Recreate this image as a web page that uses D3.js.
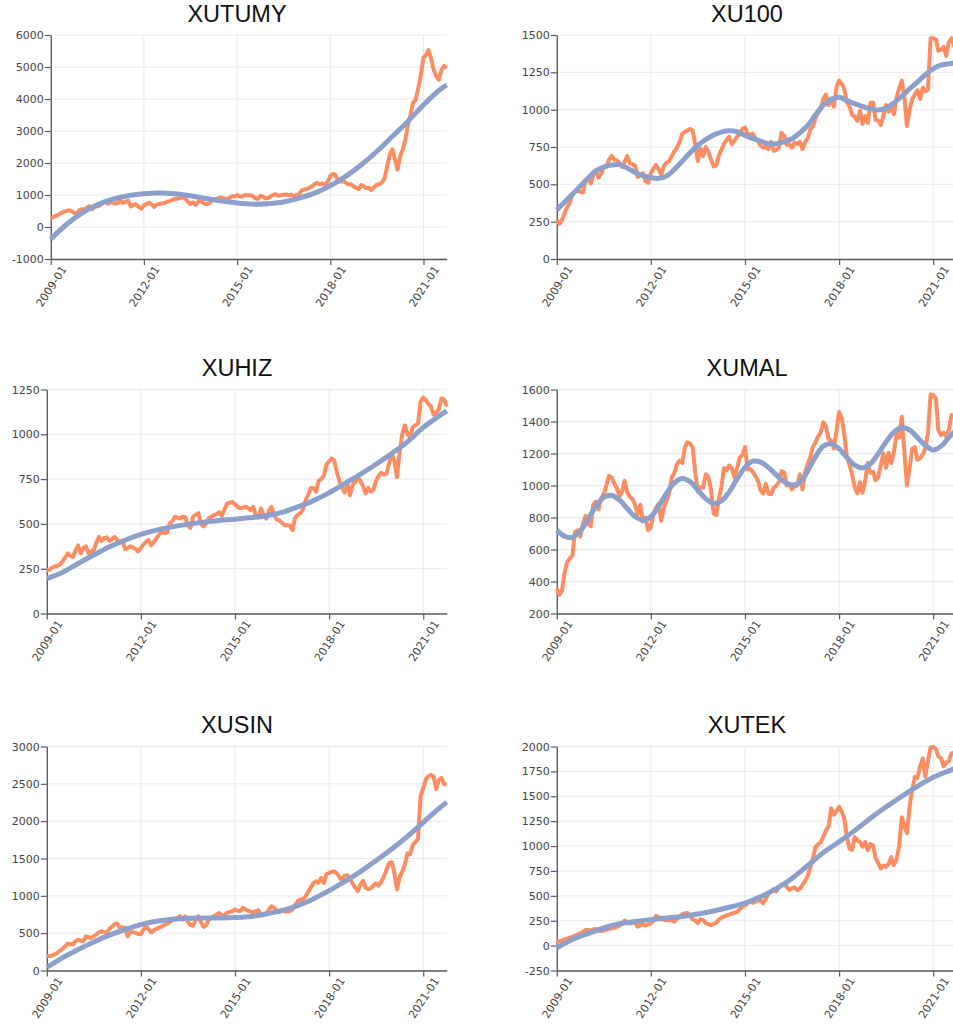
<!DOCTYPE html>
<html>
<head>
<meta charset="utf-8">
<script src="https://cdn.jsdelivr.net/npm/d3@7"></script>
<style>
  html, body { margin: 0; padding: 0; background: #fff; }
  svg { display: block; }
</style>
</head>
<body>
<svg id="chart" width="953" height="1031"></svg>
<script>
// Monthly index levels, 2009-01 through 2021-10
const monthStart = "2009-01";
const monthEnd = "2021-10";

const xutumy = [
  280,310,350,385,435,470,500,520,500,440,
  410,520,560,540,600,645,560,625,645,670,
  750,800,730,770,770,730,750,820,750,790,
  820,640,690,710,625,575,670,720,760,700,
  625,700,720,740,750,790,810,850,880,880,
  910,935,895,790,720,775,690,790,825,750,
  710,740,800,850,880,905,920,890,870,900,
  965,955,1000,955,955,1000,985,995,975,900,
  870,975,955,890,905,955,1010,1020,975,995,
  1010,1015,995,1010,955,995,1040,1145,1170,1190,
  1230,1270,1340,1380,1330,1360,1300,1400,1600,1660,
  1630,1470,1420,1430,1390,1330,1340,1265,1225,1185,
  1310,1265,1215,1225,1160,1245,1320,1340,1390,1520,
  1890,2255,2430,2120,1790,2200,2410,2720,3190,3500,
  3885,3970,4335,4750,5300,5375,5530,5270,4910,4700,
  4600,4910,5035,4960
];

const xu100 = [
  263,236,258,305,345,375,430,455,455,450,
  445,520,535,505,560,590,545,570,612,620,
  665,690,665,660,640,615,650,690,640,635,
  625,550,565,575,520,510,575,605,630,600,
  565,620,645,655,690,720,745,785,840,850,
  860,870,860,770,655,740,690,750,715,665,
  620,628,690,730,770,798,820,770,790,820,
  835,870,880,840,830,840,810,790,760,745,
  750,735,785,725,730,745,845,825,765,767,
  745,780,770,785,735,781,809,870,886,945,
  980,1001,1074,1100,1030,1074,1020,1150,1195,1176,
  1140,1050,1023,967,953,924,993,905,958,912,
  1046,1046,932,927,898,960,1031,986,1035,969,
  1080,1144,1195,1080,890,1000,1070,1101,1130,1072,
  1147,1123,1135,1478,1478,1470,1395,1400,1420,1360,
  1450,1478,1425,1440
];

const xuhiz = [
  240,245,255,262,265,272,288,310,335,322,
  316,350,380,335,365,375,338,345,353,395,
  428,405,420,425,405,415,428,410,398,405,
  360,365,375,368,360,346,365,385,400,410,
  380,400,420,440,455,450,450,500,515,540,
  535,530,540,538,490,478,540,550,560,500,
  486,505,530,540,549,555,565,545,580,614,
  618,623,610,595,588,590,595,588,577,595,
  545,535,586,545,530,575,595,550,525,520,
  505,493,493,490,465,535,550,560,580,630,
  660,700,700,680,740,750,770,830,850,865,
  855,790,740,700,675,726,660,716,735,755,
  740,710,670,700,680,690,740,770,785,775,
  780,840,890,850,760,900,1000,1050,1000,985,
  1040,1050,1060,1180,1205,1190,1170,1155,1110,1120,
  1140,1200,1195,1155
];

const xumal = [
  356,318,340,450,520,545,560,710,720,680,
  760,810,760,745,880,900,850,920,945,1000,
  1060,1050,1010,985,930,965,1030,960,930,915,
  880,820,880,775,800,720,740,820,860,885,
  780,860,905,950,1050,1080,1135,1155,1140,1240,
  1270,1262,1240,1080,960,990,985,1070,1054,975,
  825,815,915,990,1110,1095,1125,1110,1050,1110,
  1175,1190,1240,1100,1105,1085,1060,1030,970,950,
  1010,950,945,985,1000,1020,1090,1080,1000,1010,
  975,995,1000,1070,975,1080,1135,1180,1240,1270,
  1305,1330,1395,1370,1290,1280,1230,1340,1460,1420,
  1325,1180,1130,1070,990,950,1020,955,1030,1140,
  1080,1085,1033,1055,1127,1200,1110,1205,1140,1210,
  1320,1300,1430,1200,1000,1110,1230,1240,1160,1170,
  1195,1230,1330,1570,1565,1545,1346,1315,1330,1304,
  1345,1440,1430,1420
];

const xusin = [
  190,195,200,215,235,262,290,325,360,352,
  350,390,412,400,392,455,445,437,460,481,
  510,526,515,505,560,590,620,630,571,580,
  570,460,520,515,504,490,484,545,590,550,
  510,540,557,575,590,610,625,646,675,682,
  700,727,682,725,650,610,600,682,727,650,
  584,610,680,705,727,750,771,740,745,771,
  785,794,816,800,794,838,820,800,790,775,
  794,807,740,740,771,816,860,840,805,794,
  816,790,790,794,816,880,930,950,955,990,
  1050,1110,1170,1195,1175,1240,1172,1290,1306,1320,
  1330,1300,1255,1200,1270,1275,1240,1165,1110,1065,
  1150,1200,1110,1090,1100,1140,1170,1135,1190,1260,
  1350,1440,1450,1300,1085,1250,1320,1420,1570,1555,
  1680,1720,1760,2330,2445,2560,2600,2620,2600,2430,
  2550,2580,2495,2488
];

const xutek = [
  36,44,52,62,70,80,88,100,112,125,
  138,158,156,152,162,168,150,146,152,160,
  170,172,178,190,200,225,252,235,222,230,
  237,190,205,215,200,210,222,254,300,285,
  265,258,254,255,252,240,270,290,315,322,
  328,300,265,254,225,265,256,225,215,205,
  218,230,260,280,290,304,312,321,330,338,
  365,390,405,425,449,430,440,458,455,425,
  470,525,545,570,545,590,615,620,590,560,
  575,585,556,570,610,650,700,790,870,990,
  1015,1040,1093,1155,1200,1380,1315,1350,1396,1345,
  1280,1093,976,960,1090,1060,1040,993,1040,959,
  1020,1005,880,830,775,805,791,820,890,808,
  870,1000,1290,1200,1130,1400,1560,1695,1685,1800,
  1880,1700,1860,1990,1995,1975,1900,1885,1800,1840,
  1850,1933,1935,1940
];

// Fitted trend levels, sampled every six months (last one at 2021-10)
const trendXutumy = [-375,70,435,695,870,975,1040,1060,1040,975,890,810,750,715,730,780,905,1060,1290,1580,1945,2360,2830,3300,3815,4265,4440];
const trendXuhiz  = [195,229,279,326,372,409,441,465,484,498,510,519,526,535,545,564,595,630,673,725,777,833,893,958,1038,1101,1131];
const trendXusin  = [40,170,281,383,473,548,615,660,687,700,704,704,709,722,758,802,869,958,1070,1190,1324,1471,1627,1797,1984,2167,2256];
const trendXutek  = [-22,62,122,177,219,242,261,277,292,317,348,385,428,490,572,675,805,934,1043,1155,1280,1392,1500,1600,1690,1755,1785];
// Fitted trend levels, sampled every three months (last one at 2021-10)
const trendXu100  = [330,380,433,488,542,590,615,629,632,610,580,558,545,540,555,600,655,712,760,800,830,850,858,852,828,808,790,772,772,785,805,845,895,965,1030,1068,1083,1062,1040,1022,1005,998,1010,1045,1090,1140,1185,1235,1275,1298,1308,1312];
const trendXumal  = [721,683,676,716,790,870,926,938,909,856,806,783,805,869,951,1017,1044,1024,972,918,888,903,960,1041,1113,1152,1146,1113,1066,1024,1003,1021,1091,1180,1246,1260,1229,1176,1127,1110,1136,1198,1272,1334,1362,1347,1300,1250,1222,1245,1300,1350];

// Axis ticks
const xTickLabels = ["2009-01", "2012-01", "2015-01", "2018-01", "2021-01"];
const ticksXutumy = [-1000, 0, 1000, 2000, 3000, 4000, 5000, 6000];
const ticksXu100  = [0, 250, 500, 750, 1000, 1250, 1500];
const ticksXuhiz  = [0, 250, 500, 750, 1000, 1250];
const ticksXumal  = [200, 400, 600, 800, 1000, 1200, 1400, 1600];
const ticksXusin  = [0, 500, 1000, 1500, 2000, 2500, 3000];
const ticksXutek  = [-250, 0, 250, 500, 750, 1000, 1250, 1500, 1750, 2000];

const titles = ["XUTUMY", "XU100", "XUHIZ", "XUMAL", "XUSIN", "XUTEK"];

// ---------------------------------------------------------------
const parseMonth = d3.timeParse("%Y-%m");
const months = d3.timeMonth.range(parseMonth(monthStart), d3.timeMonth.offset(parseMonth(monthEnd), 1));
const xTicks = xTickLabels.map(parseMonth);
const fmtMonth = d3.timeFormat("%Y-%m");

const lastIdx = months.length - 1;
const idx6 = d3.range(0, lastIdx - 2, 6).concat([lastIdx]);
const idx3 = d3.range(0, lastIdx - 2, 3).concat([lastIdx]);

const panels = [
  { values: xutumy, trend: trendXutumy, trendIdx: idx6, yTicks: ticksXutumy },
  { values: xu100,  trend: trendXu100,  trendIdx: idx3, yTicks: ticksXu100 },
  { values: xuhiz,  trend: trendXuhiz,  trendIdx: idx6, yTicks: ticksXuhiz },
  { values: xumal,  trend: trendXumal,  trendIdx: idx3, yTicks: ticksXumal },
  { values: xusin,  trend: trendXusin,  trendIdx: idx6, yTicks: ticksXusin },
  { values: xutek,  trend: trendXutek,  trendIdx: idx6, yTicks: ticksXutek }
];

const colX = [0, 510];
const rowTop = [35, 389.5, 746.5];
const plotH = 224;
const plotRight = 446.7;
const titleX = 237;

const tickFont = "11px 'DejaVu Sans', Verdana, sans-serif";
const axisColor = "#5a5a5a";
const gridColor = "#e9e9e9";
const textColor = "#444";
const lineColor = "#fc8d62";
const trendColor = "#8da0cb";

const svg = d3.select("#chart");

function labelWidth(str) {
  const t = svg.append("text").style("font", tickFont).text(str);
  const w = t.node().getComputedTextLength();
  t.remove();
  return w;
}

panels.forEach((p, i) => {
  const col = i % 2, row = Math.floor(i / 2);
  const ox = colX[col];
  const top = rowTop[row];
  const bottom = top + plotH;
  const maxW = d3.max(p.yTicks, t => labelWidth(String(t)));
  const left = ox + 18.8 + maxW;
  const right = ox + plotRight;

  const x = d3.scaleTime().domain(d3.extent(months)).range([left, right]);
  const y = d3.scaleLinear().domain(d3.extent(p.yTicks)).range([bottom, top]);

  const g = svg.append("g");

  // title
  g.append("text")
    .attr("x", ox + titleX)
    .attr("y", top - 13.5)
    .attr("text-anchor", "middle")
    .style("font", "23.5px 'Liberation Sans', Arial, sans-serif")
    .style("fill", "#111")
    .text(titles[i]);

  // grid
  const grid = g.append("g").attr("stroke", gridColor).attr("stroke-width", 1);
  grid.selectAll("line.h").data(p.yTicks).join("line")
    .attr("class", "h")
    .attr("x1", left).attr("x2", right)
    .attr("y1", d => y(d)).attr("y2", d => y(d));
  grid.selectAll("line.v").data(xTicks).join("line")
    .attr("class", "v")
    .attr("x1", d => x(d)).attr("x2", d => x(d))
    .attr("y1", top).attr("y2", bottom);

  // y axis
  const yAxis = g.append("g")
    .attr("transform", `translate(${left},0)`)
    .call(d3.axisLeft(y).tickValues(p.yTicks).tickFormat(d => String(d))
      .tickSize(6).tickPadding(1).tickSizeOuter(0));
  yAxis.select(".domain").attr("stroke", axisColor).attr("stroke-width", 1.3);
  yAxis.selectAll(".tick line").attr("stroke", axisColor).attr("stroke-width", 1.2);
  yAxis.selectAll(".tick text").style("font", tickFont).style("fill", textColor);

  // x axis
  const xAxis = g.append("g")
    .attr("transform", `translate(0,${bottom})`)
    .call(d3.axisBottom(x).tickValues(xTicks).tickFormat(fmtMonth)
      .tickSize(6).tickSizeOuter(0));
  xAxis.select(".domain").attr("stroke", axisColor).attr("stroke-width", 1.3);
  xAxis.selectAll(".tick line").attr("stroke", axisColor).attr("stroke-width", 1.2);
  xAxis.selectAll(".tick text")
    .style("font", tickFont).style("fill", textColor)
    .attr("y", 11).attr("dy", "0.71em")
    .attr("text-anchor", "end")
    .attr("transform", "rotate(-57)");

  // index level
  const line = d3.line()
    .x((d, j) => x(months[j]))
    .y(d => y(d));
  g.append("path")
    .datum(p.values)
    .attr("d", line)
    .attr("fill", "none")
    .attr("stroke", lineColor)
    .attr("stroke-width", 4)
    .attr("stroke-linejoin", "round");

  // fitted trend
  const trendLine = d3.line()
    .curve(d3.curveCatmullRom.alpha(0.5))
    .x(d => x(months[d[0]]))
    .y(d => y(d[1]));
  g.append("path")
    .datum(p.trendIdx.map((m, k) => [m, p.trend[k]]))
    .attr("d", trendLine)
    .attr("fill", "none")
    .attr("stroke", trendColor)
    .attr("stroke-width", 5)
    .attr("stroke-linecap", "butt");
});
</script>
</body>
</html>
